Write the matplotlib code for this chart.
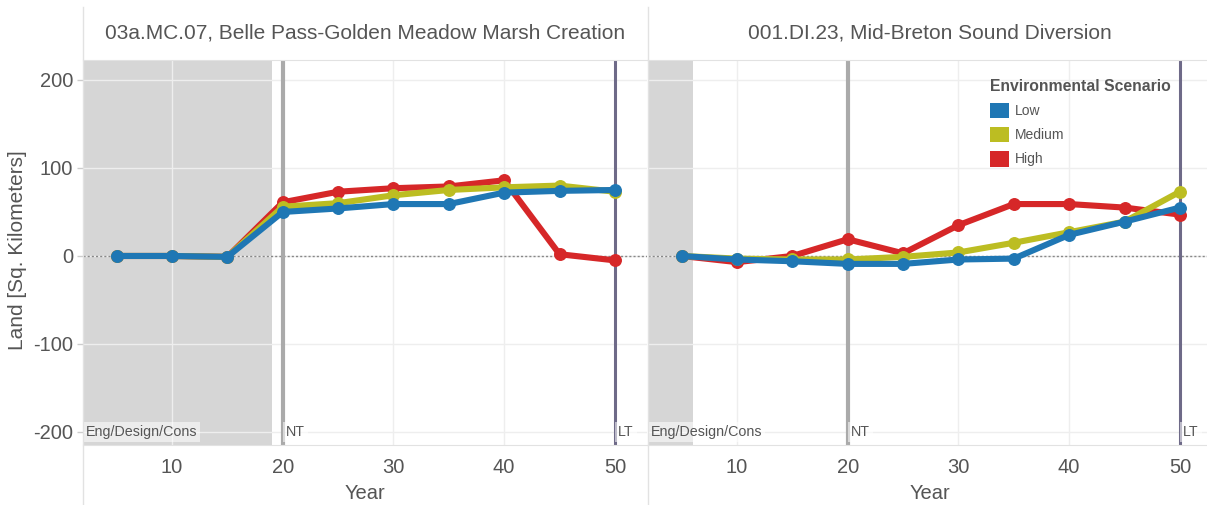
import matplotlib
matplotlib.use("Agg")
import matplotlib.pyplot as plt
from matplotlib.patches import Patch
from matplotlib.lines import Line2D

plt.rcParams['font.family'] = ['Liberation Sans', 'DejaVu Sans']

# data
years = [5, 10, 15, 20, 25, 30, 35, 40, 45, 50]
scenarios = ["Low", "Medium", "High"]
colors = {"Low": "#1f77b4", "Medium": "#bcbd22", "High": "#d62728"}

titles = ["03a.MC.07, Belle Pass-Golden Meadow Marsh Creation",
          "001.DI.23, Mid-Breton Sound Diversion"]

# Belle Pass
bp_low = [0, 0, -1, 50, 54, 59, 59, 72, 74, 75]
bp_med = [0, 0, -1, 56, 60, 69, 75, 78, 80, 73]
bp_high = [0, 0, -1, 61, 73, 77, 79, 86, 2, -5]

# Mid-Breton
mb_low = [0, -4, -6, -9, -9, -4, -3, 24, 39, 55]
mb_med = [0, -3, -4, -4, -1, 4, 15, 27, 39, 73]
mb_high = [0, -7, 0, 19, 3, 35, 59, 59, 55, 47]

panel_data = [{"Low": bp_low, "Medium": bp_med, "High": bp_high},
              {"Low": mb_low, "Medium": mb_med, "High": mb_high}]
eng_end = [19, 6]   # end of Eng/Design/Cons shading (year)
nt_year = 20
lt_year = 50

yticks = [-200, -100, 0, 100, 200]
xticks = [10, 20, 30, 40, 50]

W, H = 1207, 505
fig = plt.figure(figsize=(W / 100, H / 100), dpi=100)

txt = '#555555'
grid_c = '#eeeeee'
border_c = '#e2e2e2'

panels_px = [(83, 647), (648, 1212)]
top_px, bot_px = 60, 445

axes = []
for i, (x0, x1) in enumerate(panels_px):
    ax = fig.add_axes([x0 / W, (H - bot_px) / H, (x1 - x0) / W, (bot_px - top_px) / H])
    axes.append(ax)
    ax.set_xlim(1.96, 52.9)
    ax.set_ylim(-214.8, 222.7)
    ax.set_axisbelow(True)
    ax.grid(True, color=grid_c, lw=1, zorder=0.5)
    ax.axvspan(0, eng_end[i], color='#d6d6d6', lw=0, zorder=0.2)
    ax.axhline(0, color='#888888', ls=(0, (1.5, 1.5)), lw=1, zorder=1)
    ax.axvline(nt_year, color='#aaaaaa', lw=3, zorder=1.5)
    ax.axvline(lt_year, color='#6e6a88', lw=2.2, zorder=1.5)

    for s in ["High", "Medium", "Low"]:
        ax.plot(years, panel_data[i][s], color=colors[s], lw=4.4,
                marker='o', ms=8.3, solid_joinstyle='round', zorder=3)

    box = dict(facecolor='white', alpha=0.55, edgecolor='none', pad=2)
    ax.text(2.2, -200, "Eng/Design/Cons", fontsize=10.3, color=txt, va='center', ha='left', bbox=box, zorder=2)
    ax.text(nt_year + 0.3, -200, "NT", fontsize=10.3, color=txt, va='center', ha='left', bbox=box, zorder=2)
    ax.text(lt_year + 0.3, -200, "LT", fontsize=10.3, color=txt, va='center', ha='left', bbox=box, zorder=2)

    ax.set_xticks(xticks)
    ax.set_yticks(yticks)
    ax.tick_params(axis='x', length=0, pad=9.5, labelsize=14.5, labelcolor=txt)
    ax.tick_params(axis='y', length=4, width=1, color='#cccccc', pad=3, labelsize=14.5, labelcolor=txt)
    ax.set_yticklabels([str(v) for v in yticks])
    for side in ['left', 'right']:
        ax.spines[side].set_visible(False)
    ax.spines['top'].set_color(border_c)
    ax.spines['bottom'].set_color(border_c)
    ax.set_xlabel("Year", fontsize=14.5, color=txt, labelpad=5)
    if i == 1:
        ax.tick_params(axis='y', left=False, labelleft=False)

    fig.text((x0 + x1) / 2 / W, 1 - 33 / H, titles[i], fontsize=15, color=txt, ha='center', va='center')

axes[0].set_ylabel("Land [Sq. Kilometers]", fontsize=15, color=txt)
axes[0].yaxis.set_label_coords(-0.1, 0.506)

# panel divider lines
for xp in [83, 648]:
    fig.add_artist(Line2D([xp / W, xp / W], [0, 1 - 7 / H], transform=fig.transFigure, color=border_c, lw=1))

handles = [Patch(facecolor=colors[s], edgecolor='none') for s in scenarios]
leg = axes[1].legend(handles, scenarios, title="Environmental Scenario", loc='upper left',
                     bbox_to_anchor=(990 / W, 1 - 79 / H), bbox_transform=fig.transFigure,
                     frameon=False, fontsize=10, handlelength=1.35, handleheight=1.35,
                     handletextpad=0.45, labelspacing=0.62, borderpad=0, borderaxespad=0,
                     alignment='left')
leg.get_title().set_fontsize(11.3)
leg.get_title().set_fontweight('bold')
leg.get_title().set_color(txt)
for t in leg.get_texts():
    t.set_color(txt)

fig.savefig("out.png", dpi=100)
